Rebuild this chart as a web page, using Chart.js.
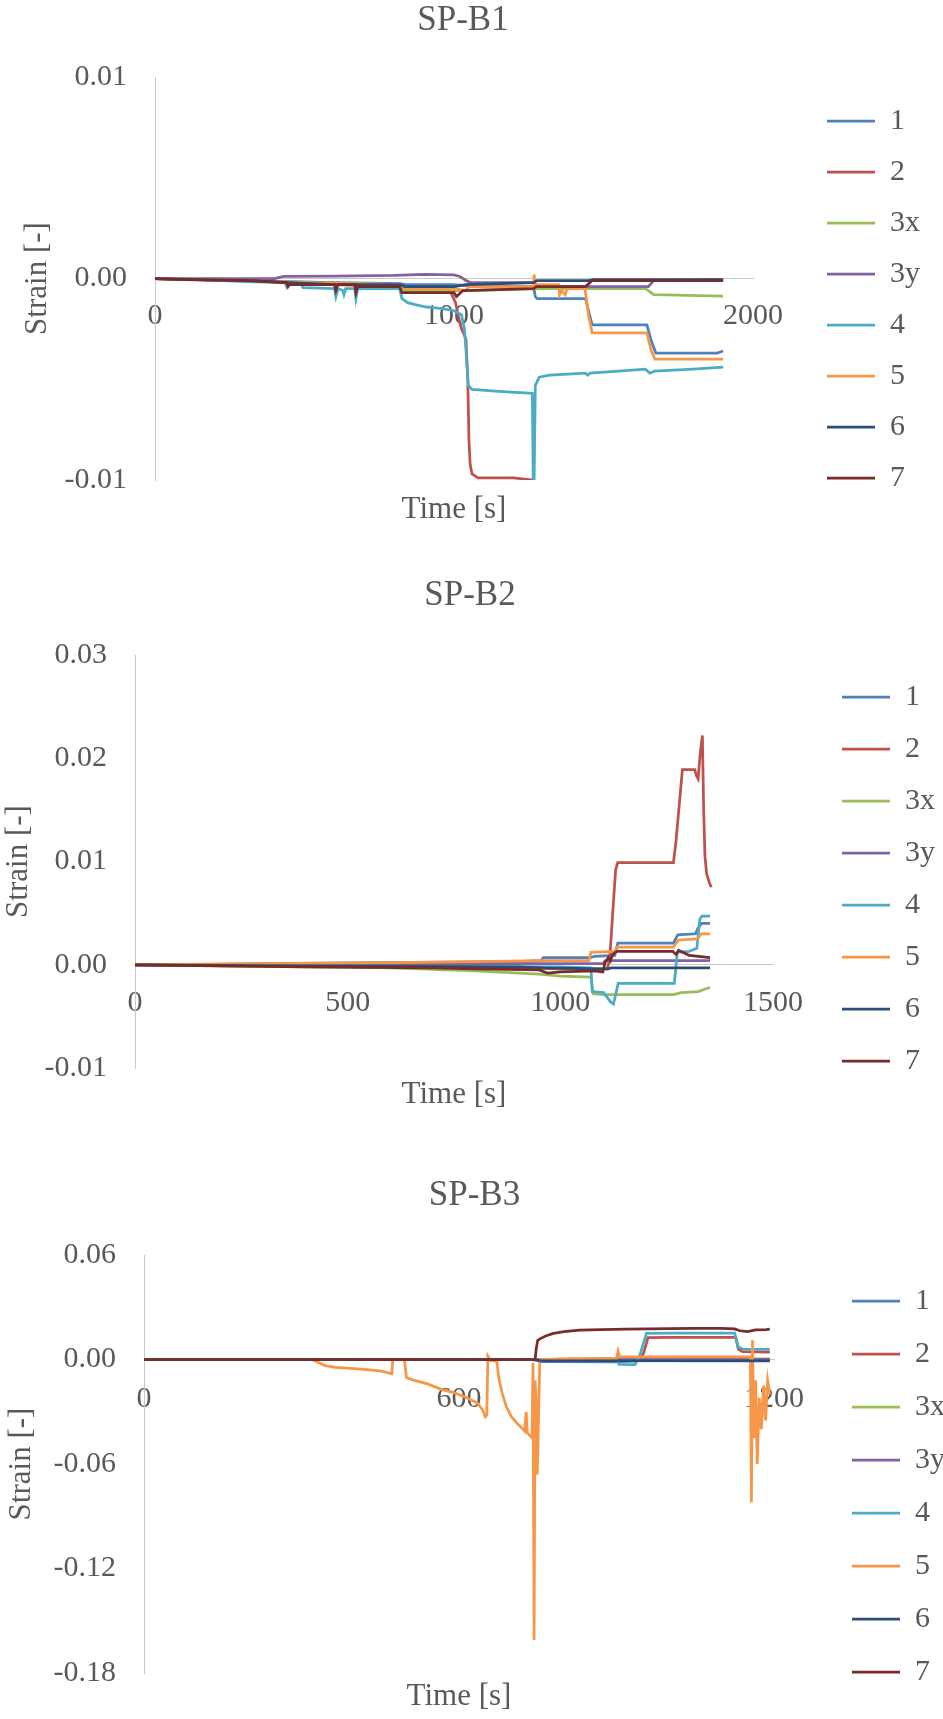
<!DOCTYPE html>
<html>
<head>
<meta charset="utf-8">
<title>Strain histories SP-B1, SP-B2, SP-B3</title>
<script src="https://cdn.jsdelivr.net/npm/chart.js@4/dist/chart.umd.min.js"></script>
<style>
  html, body { margin: 0; padding: 0; background: #ffffff; }
  body { width: 943px; height: 1719px; position: relative; overflow: hidden; }
  canvas { position: absolute; left: 0; }
</style>
</head>
<body>
<canvas id="spb1" width="943" height="545" style="top:0px"></canvas>
<canvas id="spb2" width="943" height="560" style="top:560px"></canvas>
<canvas id="spb3" width="949" height="559" style="top:1160px"></canvas>
<script>
// Gauge names and colours, shared by all three specimens
const GAUGES = ['1', '2', '3x', '3y', '4', '5', '6', '7'];
const GAUGE_COLORS = ['#4F81BD', '#C0504D', '#9BBB59', '#8064A2', '#4BACC6', '#F79646', '#2C4D75', '#772C2A'];

// ---------- SP-B1 : [time s, strain] ----------
const SPB1_TIME_TICKS = [0, 1000, 2000];
const SPB1_TIME_LABELS = ['0', '1000', '2000'];
const SPB1_STRAIN_TICKS = [-0.01, 0, 0.01];
const SPB1_STRAIN_LABELS = ['-0.01', '0.00', '0.01'];

const SPB1_1 = [[0,0],[120,-0.00005],[300,-0.0001],[450,-0.00015],[600,-0.0002],[820,-0.00025],[840,-0.0003],[1000,-0.0003],[1040,-0.00035],[1266,-0.0004],[1272,-0.0009],[1278,-0.001],[1440,-0.001],[1450,-0.0016],[1462,-0.0023],[1645,-0.0023],[1660,-0.0031],[1675,-0.0037],[1880,-0.0037],[1900,-0.0036]];
const SPB1_2 = [[0,0],[120,-0.00005],[300,-0.0001],[450,-0.0002],[600,-0.0003],[820,-0.0004],[840,-0.0006],[990,-0.0007],[1005,-0.0012],[1015,-0.0019],[1025,-0.0025],[1040,-0.003],[1046,-0.005],[1050,-0.008],[1054,-0.0092],[1060,-0.0097],[1080,-0.0099],[1200,-0.0099],[1265,-0.01]];
const SPB1_3X = [[0,0],[300,-0.0001],[500,-0.0002],[820,-0.0003],[835,-0.0006],[1000,-0.0006],[1045,-0.0006],[1270,-0.0005],[1640,-0.0005],[1650,-0.0006],[1668,-0.0008],[1900,-0.00087]];
const SPB1_3Y = [[0,0],[400,0],[430,0.0001],[600,0.00012],[800,0.00015],[900,0.0002],[1000,0.00018],[1020,0.0001],[1040,-0.0001],[1055,-0.0002],[1266,-0.0002],[1276,-0.0004],[1650,-0.0004],[1668,-0.0001],[1900,-0.00005]];
const SPB1_4 = [[0,0],[150,-0.00005],[300,-0.00015],[435,-0.0002],[440,-0.0004],[445,-0.0002],[488,-0.00025],[495,-0.00045],[600,-0.0005],[605,-0.0009],[612,-0.0005],[628,-0.0006],[632,-0.0008],[638,-0.0005],[668,-0.0005],[672,-0.001],[678,-0.0005],[818,-0.0005],[826,-0.001],[845,-0.0012],[870,-0.0013],[900,-0.0014],[960,-0.0015],[1000,-0.0016],[1025,-0.0018],[1035,-0.0025],[1042,-0.004],[1048,-0.0053],[1060,-0.0055],[1150,-0.0056],[1262,-0.0057],[1265,-0.01],[1268,-0.01],[1272,-0.0053],[1285,-0.0049],[1320,-0.0048],[1440,-0.0047],[1447,-0.0048],[1455,-0.0047],[1550,-0.0046],[1640,-0.0045],[1655,-0.0047],[1670,-0.0046],[1800,-0.0045],[1900,-0.0044]];
const SPB1_5 = [[0,0],[300,-0.0001],[500,-0.0002],[820,-0.0003],[835,-0.0005],[1000,-0.0005],[1040,-0.0006],[1050,-0.0004],[1266,-0.0004],[1268,0.0002],[1271,-0.0003],[1350,-0.0003],[1353,-0.0008],[1360,-0.0006],[1372,-0.0008],[1378,-0.0005],[1438,-0.0005],[1450,-0.0018],[1462,-0.0027],[1645,-0.0027],[1660,-0.0036],[1672,-0.004],[1900,-0.004]];
const SPB1_6 = [[0,0],[300,-0.0001],[450,-0.0002],[600,-0.0003],[820,-0.0003],[835,-0.0004],[1000,-0.0004],[1040,-0.0003],[1266,-0.0002],[1278,-0.0001],[1450,-0.0001],[1465,-0.00005],[1900,-0.00005]];
const SPB1_7 = [[0,0],[100,-0.00005],[330,-0.0001],[440,-0.0002],[445,-0.0004],[450,-0.0003],[600,-0.0003],[605,-0.0006],[612,-0.0003],[668,-0.0003],[672,-0.0007],[678,-0.0004],[818,-0.0004],[826,-0.0007],[1000,-0.0007],[1008,-0.0009],[1030,-0.0006],[1266,-0.0005],[1276,-0.0004],[1440,-0.0004],[1462,-0.0001],[1900,-0.0001]];

// ---------- SP-B2 ----------
const SPB2_TIME_TICKS = [0, 500, 1000, 1500];
const SPB2_TIME_LABELS = ['0', '500', '1000', '1500'];
const SPB2_STRAIN_TICKS = [-0.01, 0, 0.01, 0.02, 0.03];
const SPB2_STRAIN_LABELS = ['-0.01', '0.00', '0.01', '0.02', '0.03'];

const SPB2_1 = [[0,0],[100,0],[300,0.0001],[600,0.0002],[900,0.0003],[955,0.0004],[960,0.0007],[1070,0.0007],[1080,0.0008],[1128,0.0009],[1135,0.0021],[1266,0.0021],[1276,0.0029],[1318,0.003],[1323,0.0035],[1332,0.004],[1352,0.004]];
const SPB2_2 = [[0,0],[300,-0.0001],[600,-0.0002],[900,-0.0003],[1000,-0.0004],[1110,-0.0004],[1116,0.0005],[1124,0.0055],[1130,0.0092],[1135,0.0099],[1266,0.0099],[1272,0.012],[1287,0.0189],[1316,0.0189],[1320,0.0183],[1324,0.018],[1329,0.0205],[1334,0.0222],[1337,0.015],[1340,0.0105],[1344,0.0088],[1350,0.008],[1355,0.0075]];
const SPB2_3X = [[0,0],[200,-0.0001],[400,-0.0002],[600,-0.0003],[800,-0.0006],[950,-0.0009],[1000,-0.0011],[1072,-0.0012],[1077,-0.0028],[1100,-0.0029],[1266,-0.0029],[1284,-0.0027],[1324,-0.0026],[1344,-0.0023],[1352,-0.0022]];
const SPB2_3Y = [[0,0],[500,0],[900,0.0001],[1100,0.0001],[1106,0.0004],[1352,0.0004]];
const SPB2_4 = [[0,0],[150,0],[200,-0.0001],[1000,-0.0002],[1072,-0.0003],[1075,-0.0026],[1102,-0.0027],[1118,-0.0036],[1125,-0.0038],[1136,-0.0018],[1268,-0.0018],[1275,0.0012],[1303,0.0013],[1321,0.0016],[1328,0.0044],[1333,0.0047],[1352,0.0047]];
const SPB2_5 = [[0,0],[300,0.0001],[600,0.0002],[800,0.0003],[955,0.0004],[1067,0.0004],[1072,0.0012],[1128,0.0013],[1133,0.0017],[1266,0.0017],[1278,0.0024],[1323,0.0025],[1331,0.003],[1352,0.003]];
const SPB2_6 = [[0,0],[400,-0.0001],[900,-0.0002],[960,-0.0003],[1095,-0.0004],[1112,-0.0004],[1120,-0.0003],[1352,-0.0003]];
const SPB2_7 = [[0,0],[200,-0.0001],[400,-0.0002],[700,-0.0003],[800,-0.0004],[950,-0.0005],[970,-0.0008],[1000,-0.0007],[1080,-0.0006],[1100,-0.0007],[1105,0.0002],[1113,0.0007],[1118,0.0004],[1123,0.001],[1133,0.0013],[1264,0.0013],[1272,0.001],[1278,0.0014],[1303,0.0009],[1352,0.0007]];

// ---------- SP-B3 ----------
const SPB3_TIME_TICKS = [0, 600, 1200];
const SPB3_TIME_LABELS = ['0', '600', '1200'];
const SPB3_STRAIN_TICKS = [-0.18, -0.12, -0.06, 0, 0.06];
const SPB3_STRAIN_LABELS = ['-0.18', '-0.12', '-0.06', '0.00', '0.06'];

const SPB3_1 = [[0,0],[740,0],[755,-0.0012],[900,-0.0013],[930,-0.001],[960,-0.0003],[1192,-0.0002]];
const SPB3_2 = [[0,0],[945,0],[952,0.004],[960,0.0125],[1000,0.0127],[1127,0.0127],[1132,0.006],[1140,0.0045],[1192,0.0043]];
const SPB3_3X = [[0,0],[750,0],[800,0.0002],[1192,0.0003]];
const SPB3_3Y = [[0,0],[1192,0.0001]];
const SPB3_4 = [[0,0],[900,0],[905,-0.0028],[935,-0.003],[945,0.003],[957,0.015],[1000,0.0152],[1125,0.0152],[1132,0.0072],[1140,0.006],[1192,0.0058]];
const SPB3_5 = [[0,0],[320,0],[330,-0.0015],[345,-0.0035],[365,-0.0045],[400,-0.0052],[430,-0.006],[455,-0.0068],[472,-0.0082],[474,0],[496,0],[500,-0.0105],[515,-0.012],[540,-0.014],[565,-0.017],[590,-0.019],[615,-0.022],[635,-0.025],[645,-0.029],[650,-0.033],[653,-0.032],[655,0.002],[660,-0.0005],[672,-0.001],[676,-0.011],[682,-0.019],[690,-0.027],[700,-0.033],[712,-0.037],[725,-0.041],[728,-0.03],[730,-0.042],[736,-0.044],[739,-0.045],[741,-0.002],[743,-0.161],[745,-0.012],[747,-0.025],[749,-0.066],[751,-0.04],[754,0],[800,0.0003],[900,0.0008],[903,0.0048],[906,0.0015],[1000,0.0015],[1155,0.0016],[1157,-0.082],[1159,0.011],[1162,-0.045],[1165,-0.012],[1168,-0.06],[1172,-0.022],[1176,-0.04],[1180,-0.015],[1184,-0.035],[1188,-0.012],[1192,-0.02]];
const SPB3_6 = [[0,0],[745,0],[755,-0.0006],[1192,-0.0008]];
const SPB3_7 = [[0,0],[745,0],[747,0.006],[750,0.011],[755,0.012],[765,0.0135],[780,0.015],[800,0.016],[830,0.0168],[870,0.0172],[920,0.0175],[960,0.0176],[1000,0.0177],[1050,0.0178],[1100,0.0178],[1125,0.0176],[1135,0.0165],[1150,0.016],[1165,0.017],[1185,0.0172],[1192,0.0175]];

// ---------- drawing ----------
const FONT = "'Liberation Serif', 'Times New Roman', serif";
const TEXT = '#595959';
const AXIS = '#c8c8c8';
Chart.defaults.font.family = FONT;
Chart.defaults.color = TEXT;

function strainChart(canvasId, spec) {
  const datasets = spec.series.map((pts, i) => ({
    label: GAUGES[i],
    data: pts.map(p => ({ x: p[0], y: p[1] })),
    borderColor: GAUGE_COLORS[i],
    backgroundColor: GAUGE_COLORS[i],
    borderWidth: 2.75,
    pointRadius: 0,
    tension: 0,
    fill: false,
    order: GAUGES.length - i,   // later gauges are painted on top
    xAxisID: 'x',
    yAxisID: 'y'
  }));

  return new Chart(document.getElementById(canvasId), {
    type: 'line',
    data: { datasets },
    options: {
      responsive: false,
      animation: false,
      devicePixelRatio: 1,
      layout: { padding: { top: 0, left: 0, right: spec.padRight, bottom: spec.padBottom } },
      plugins: {
        title: {
          display: true,
          text: spec.title,
          color: TEXT,
          font: { size: 35, family: FONT, weight: 'normal' },
          padding: { top: spec.titleTop, bottom: spec.titleGap }
        },
        legend: {
          position: 'right',
          align: 'end',
          maxWidth: 120,
          labels: {
            color: TEXT,
            font: { size: 30, family: FONT },
            usePointStyle: true,
            pointStyle: 'line',
            pointStyleWidth: 48,
            padding: spec.legendGap,
            sort: (a, b) => a.datasetIndex - b.datasetIndex
          }
        },
        tooltip: { enabled: false }
      },
      scales: {
        // time axis crossing the strain axis at zero
        x: {
          type: 'linear',
          position: { y: 0 },
          min: 0,
          max: spec.timeTicks[spec.timeTicks.length - 1],
          grid: { display: false, drawTicks: false },
          border: { display: true, color: AXIS, width: 1 },
          ticks: {
            color: TEXT,
            font: { size: 30, family: FONT },
            padding: spec.timeTickPad,
            maxRotation: 0,
            autoSkip: false,
            callback: (v, i) => spec.timeLabels[i]
          },
          afterBuildTicks: s => { s.ticks = spec.timeTicks.map(v => ({ value: v })); }
        },
        // band under the plot that carries the time axis title
        xTitle: {
          type: 'linear',
          axis: 'x',
          position: 'bottom',
          display: true,
          min: 0,
          max: spec.timeTicks[spec.timeTicks.length - 1],
          grid: { display: false, drawTicks: false },
          border: { display: false },
          ticks: { display: false },
          title: {
            display: true,
            text: 'Time [s]',
            color: TEXT,
            font: { size: 31, family: FONT },
            padding: { top: 0, bottom: spec.timeTitlePad }
          },
          afterFit: s => { s.height = spec.timeBand; }
        },
        y: {
          type: 'linear',
          position: 'left',
          min: spec.strainTicks[0],
          max: spec.strainTicks[spec.strainTicks.length - 1],
          grid: { display: false, drawTicks: false },
          border: { display: true, color: AXIS, width: 1 },
          ticks: {
            color: TEXT,
            font: { size: 30, family: FONT },
            padding: 28,
            callback: (v, i) => spec.strainLabels[i]
          },
          afterBuildTicks: s => { s.ticks = spec.strainTicks.map(v => ({ value: v })); },
          title: {
            display: true,
            text: 'Strain [-]',
            color: TEXT,
            font: { size: 31, family: FONT },
            padding: { top: spec.strainTitlePad, bottom: 0 }
          },
          afterFit: s => { s.width = spec.axisLeft; }
        },
        // empty gap between plot and legend
        ySpace: {
          type: 'linear',
          axis: 'y',
          position: 'right',
          display: true,
          grid: { display: false, drawTicks: false },
          border: { display: false },
          ticks: { display: false },
          afterFit: s => { s.width = spec.legendSpace; }
        }
      }
    }
  });
}

strainChart('spb1', {
  title: 'SP-B1',
  series: [SPB1_1, SPB1_2, SPB1_3X, SPB1_3Y, SPB1_4, SPB1_5, SPB1_6, SPB1_7],
  timeTicks: SPB1_TIME_TICKS, timeLabels: SPB1_TIME_LABELS,
  strainTicks: SPB1_STRAIN_TICKS, strainLabels: SPB1_STRAIN_LABELS,
  padRight: 17, padBottom: 31, titleTop: 0, titleGap: 35,
  legendGap: 21, legendSpace: 53, axisLeft: 155, strainTitlePad: 19,
  timeBand: 34, timeTitlePad: -14, timeTickPad: 20
});

strainChart('spb2', {
  title: 'SP-B2',
  series: [SPB2_1, SPB2_2, SPB2_3X, SPB2_3Y, SPB2_4, SPB2_5, SPB2_6, SPB2_7],
  timeTicks: SPB2_TIME_TICKS, timeLabels: SPB2_TIME_LABELS,
  strainTicks: SPB2_STRAIN_TICKS, strainLabels: SPB2_STRAIN_LABELS,
  padRight: 3, padBottom: 22, titleTop: 15, titleGap: 38,
  legendGap: 22, legendSpace: 47, axisLeft: 135, strainTitlePad: 0,
  timeBand: 30, timeTitlePad: -15, timeTickPad: 20
});

strainChart('spb3', {
  title: 'SP-B3',
  series: [SPB3_1, SPB3_2, SPB3_3X, SPB3_3Y, SPB3_4, SPB3_5, SPB3_6, SPB3_7],
  timeTicks: SPB3_TIME_TICKS, timeLabels: SPB3_TIME_LABELS,
  strainTicks: SPB3_STRAIN_TICKS, strainLabels: SPB3_STRAIN_LABELS,
  padRight: 0, padBottom: 9, titleTop: 15, titleGap: 38,
  legendGap: 23, legendSpace: 55, axisLeft: 144, strainTitlePad: 3,
  timeBand: 34, timeTitlePad: -8, timeTickPad: 22
});
</script>
</body>
</html>
